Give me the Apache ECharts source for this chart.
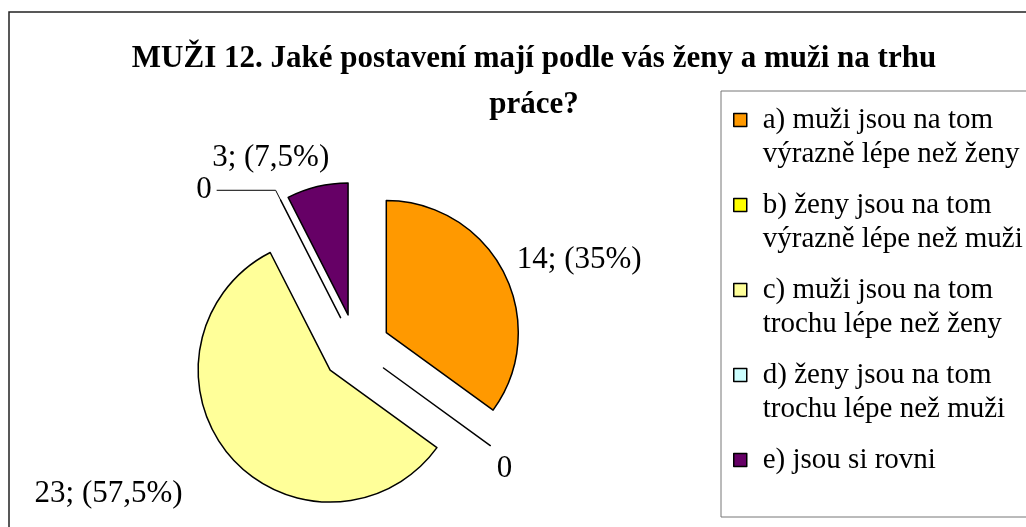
<!DOCTYPE html>
<html>
<head>
<meta charset="utf-8">
<script src="https://cdn.jsdelivr.net/npm/echarts@6/dist/echarts.min.js"></script>
<style>
  html, body { margin: 0; padding: 0; background: #fff; }
  #chart { width: 1026px; height: 527px; }
</style>
</head>
<body>
<div id="chart"></div>
<script>
var categories = [
  'a) muži jsou na tom\nvýrazně lépe než ženy',
  'b) ženy jsou na tom\nvýrazně lépe než muži',
  'c) muži jsou na tom\ntrochu lépe než ženy',
  'd) ženy jsou na tom\ntrochu lépe než muži',
  'e) jsou si rovni'
]
var counts = [14, 0, 23, 0, 3]
var colors = ['#FF9900', '#FFFF00', '#FFFF99', '#CCFFFF', '#660066']
var titleText = 'MUŽI 12. Jaké postavení mají podle vás ženy a muži na trhu\npráce?'

var chart = echarts.init(document.getElementById('chart'))
var font = '"Liberation Serif", "Times New Roman", serif'

// delky vodicich car -> umisteni popisku jako v Excelu
var lineLen = [
  { length: 28, length2: -17 },
  { length: 40, length2: -31 },
  { length: 58, length2: -2 },
  { length: 11, length2: 59, show: true },
  { length: 30, length2: -24 }
]

var seriesData = []
for (var i = 0; i < categories.length; i++) {
  seriesData.push({
    name: categories[i],
    value: counts[i],
    selected: true,
    itemStyle: { color: colors[i] },
    labelLine: {
      show: !!lineLen[i].show,
      length: lineLen[i].length,
      length2: lineLen[i].length2
    }
  })
}

var option = {
  animation: false,
  textStyle: { fontFamily: font, color: '#000' },
  graphic: [
    { type: 'rect', shape: { x: 9, y: 12, width: 1030, height: 530 },
      style: { fill: 'none', stroke: '#222', lineWidth: 1.5 } },
    { type: 'rect', shape: { x: 721, y: 91, width: 320, height: 426 },
      style: { fill: 'none', stroke: '#777', lineWidth: 1 } }
  ],
  title: {
    text: titleText,
    left: 529,
    top: 31,
    textAlign: 'center',
    textStyle: {
      fontFamily: font,
      fontSize: 31,
      fontWeight: 'bold',
      color: '#000',
      lineHeight: 46,
      align: 'center'
    }
  },
  legend: {
    orient: 'vertical',
    left: 733,
    top: 69,
    padding: 0,
    itemWidth: 13,
    itemHeight: 13,
    itemGap: -17,
    icon: 'rect',
    itemStyle: { borderColor: '#000', borderWidth: 1.5 },
    // prazdny prvni radek, aby ikonka sedela u prvniho radku textu
    formatter: function (name) {
      var t = ' \n' + name
      if (name.indexOf('\n') < 0) t += '\n '
      return t
    },
    textStyle: {
      fontFamily: font,
      fontSize: 29,
      lineHeight: 34,
      color: '#000',
      padding: [0, 0, 0, 11]
    },
    data: categories
  },
  series: [
    {
      type: 'pie',
      center: [356, 348],
      radius: 132,
      startAngle: 90,
      clockwise: true,
      selectedMode: 'multiple',
      selectedOffset: 34,
      avoidLabelOverlap: false,
      itemStyle: { borderColor: '#000', borderWidth: 1.5 },
      select: { itemStyle: { borderColor: '#000', borderWidth: 1.5 } },
      emphasis: { disabled: true },
      label: {
        show: true,
        position: 'outside',
        alignTo: 'none',
        fontFamily: font,
        fontSize: 31,
        color: '#000',
        formatter: function (p) {
          if (!p.value) return '0'
          return p.value + '; (' + String(p.percent).replace('.', ',') + '%)'
        }
      },
      labelLine: { show: false, lineStyle: { color: '#000', width: 1 } },
      labelLayout: { hideOverlap: false },
      data: seriesData
    }
  ]
}
chart.setOption(option)
</script>
</body>
</html>
